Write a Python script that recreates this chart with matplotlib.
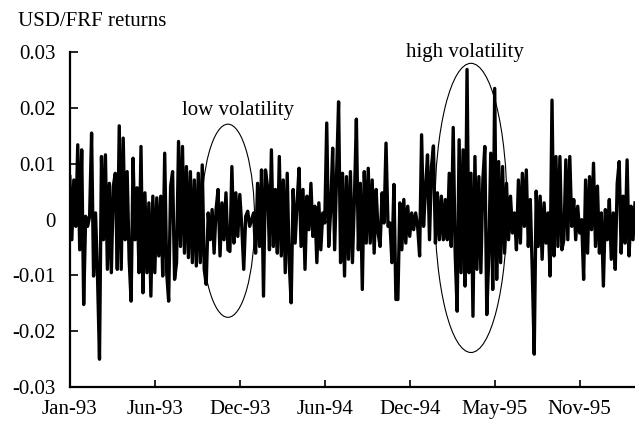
import numpy as np
import matplotlib
matplotlib.use('Agg')
import matplotlib.pyplot as plt
from matplotlib.patches import Ellipse

# daily USD/FRF returns (Jan-93 .. early 96)
returns = [
    0.0077, -0.0036, 0.0071, -0.0012, 0.0134, -0.0054, 0.0125, -0.0152, 0.0006, -0.0012,
    0.0006, 0.0155, -0.0101, 0.0012, -0.0101, -0.0250, 0.0113, -0.0036, 0.0116, -0.0089,
    0.0065, -0.0095, 0.0060, 0.0083, -0.0089, 0.0168, -0.0089, 0.0146, -0.0036, 0.0086,
    -0.0071, -0.0146, 0.0110, -0.0036, 0.0057, -0.0095, 0.0131, -0.0131, 0.0048, -0.0095,
    0.0030, -0.0137, 0.0042, -0.0095, 0.0039, -0.0065, 0.0042, -0.0101, 0.0119, -0.0095,
    -0.0146, 0.0060, 0.0086, -0.0107, -0.0077, 0.0140, -0.0048, 0.0131, -0.0060, 0.0095,
    -0.0068, 0.0086, -0.0077, 0.0071, -0.0083, 0.0083, -0.0077, 0.0098, -0.0089, -0.0116,
    0.0012, -0.0036, 0.0018, -0.0060, 0.0018, 0.0054, -0.0065, 0.0030, -0.0036, 0.0048,
    -0.0054, -0.0057, 0.0095, -0.0042, 0.0048, -0.0030, 0.0045, -0.0012, -0.0089, 0.0006,
    0.0015, -0.0012, 0.0000, 0.0012, -0.0060, 0.0065,
    -0.0048, 0.0089, -0.0137, 0.0089, 0.0060, -0.0054, 0.0125, -0.0048, 0.0054, -0.0060,
    0.0113, -0.0065, 0.0071, -0.0095, 0.0083, -0.0077, -0.0149, 0.0054, -0.0042, 0.0030,
    0.0092, -0.0048, 0.0054, -0.0089, 0.0042, -0.0018, 0.0065, -0.0030, 0.0024, -0.0077,
    0.0030, -0.0054, 0.0012, -0.0006, 0.0173,
    -0.0048, 0.0018, 0.0128, -0.0054, 0.0083, 0.0211, -0.0077, 0.0083, -0.0101, 0.0077,
    -0.0071, 0.0086, -0.0077, 0.0036, 0.0180, -0.0054, 0.0065, -0.0125, 0.0086, -0.0042,
    0.0092, -0.0042, 0.0071, -0.0060, 0.0054, -0.0024, -0.0048, 0.0048, -0.0006, 0.0137,
    -0.0012, -0.0006, -0.0077, 0.0063, -0.0143, -0.0143, 0.0030, -0.0054, 0.0036, -0.0042,
    0.0024, -0.0030, 0.0012, -0.0018,
    0.0012, -0.0012, -0.0065, 0.0152, -0.0012, 0.0054, 0.0116, -0.0036, 0.0095, 0.0132,
    -0.0042, 0.0048, -0.0036, 0.0042,
    -0.0036, 0.0036, -0.0036, 0.0083, -0.0048, 0.0165, -0.0060, -0.0164, 0.0143, -0.0095,
    0.0125, -0.0119, 0.0269, -0.0095, 0.0083, -0.0173, 0.0113, -0.0089, 0.0077, -0.0095,
    0.0071, 0.0131, -0.0170, -0.0065, 0.0119, -0.0125, 0.0235, -0.0107, 0.0104, -0.0077,
    0.0095, -0.0060, 0.0065, -0.0036, 0.0042, -0.0024, 0.0012, -0.0054, 0.0071, -0.0042,
    0.0083, -0.0012, 0.0089, -0.0048, 0.0036, -0.0089, -0.0241, 0.0051, -0.0048, 0.0042,
    -0.0071, 0.0030, -0.0042, 0.0012, -0.0101, 0.0214, -0.0065, 0.0113, -0.0048, 0.0113,
    -0.0054, -0.0036, 0.0107, -0.0036, 0.0113, -0.0012, 0.0036, -0.0036, 0.0024, -0.0024,
    0.0000, -0.0107, 0.0071, -0.0060, 0.0077, -0.0018, 0.0101, -0.0048, 0.0060, -0.0060,
    0.0012, -0.0119, 0.0018, -0.0036, 0.0036, -0.0071, 0.0012, -0.0089, 0.0065, 0.0104,
    -0.0060, 0.0042, -0.0042, 0.0107, -0.0065, 0.0024, -0.0036, 0.0030,
]
tick_labels = ['Jan-93', 'Jun-93', 'Dec-93', 'Jun-94', 'Dec-94', 'May-95', 'Nov-95']
ytick_vals = [-0.03, -0.02, -0.01, 0, 0.01, 0.02, 0.03]
ytick_text = ['-0.03', '-0.02', '-0.01', '0', '0.01', '0.02', '0.03']
obs_per_tick = 43

plt.rcParams['font.family'] = ['Liberation Serif', 'DejaVu Serif']
plt.rcParams['font.size'] = 15

x = np.arange(len(returns))

fig = plt.figure(figsize=(6.35, 4.24), dpi=100)
ax = fig.add_axes([0.110, 0.087, 0.890, 0.790])
ax.plot(x, returns, color='black', lw=2.4)

ax.set_xlim(0, len(returns) - 1)
ax.set_ylim(-0.03, 0.03)
ax.set_yticks(ytick_vals)
ax.set_yticklabels(ytick_text)
ax.set_xticks(np.arange(len(tick_labels)) * obs_per_tick)
ax.set_xticklabels(tick_labels)

for s in ['top', 'right']:
    ax.spines[s].set_visible(False)
for s in ['left', 'bottom']:
    ax.spines[s].set_linewidth(1.6)
ax.tick_params(axis='y', direction='in', length=6, width=1.2, pad=10.5)
ax.tick_params(axis='x', direction='in', length=5, width=1.2, pad=9.5)

# circled regions
ax.add_patch(Ellipse((80, -0.0002), 27, 0.0346, fill=False, lw=0.8, color='black', zorder=3))
ax.add_patch(Ellipse((203, 0.0021), 36.5, 0.0518, fill=False, lw=0.8, color='black', zorder=3))
ax.text(85, 0.0196, 'low volatility', ha='center', va='center')
ax.text(200, 0.0300, 'high volatility', ha='center', va='center')

fig.text(0.028, 0.950, 'USD/FRF returns', ha='left', va='center')

fig.savefig('out.png', dpi=100)
